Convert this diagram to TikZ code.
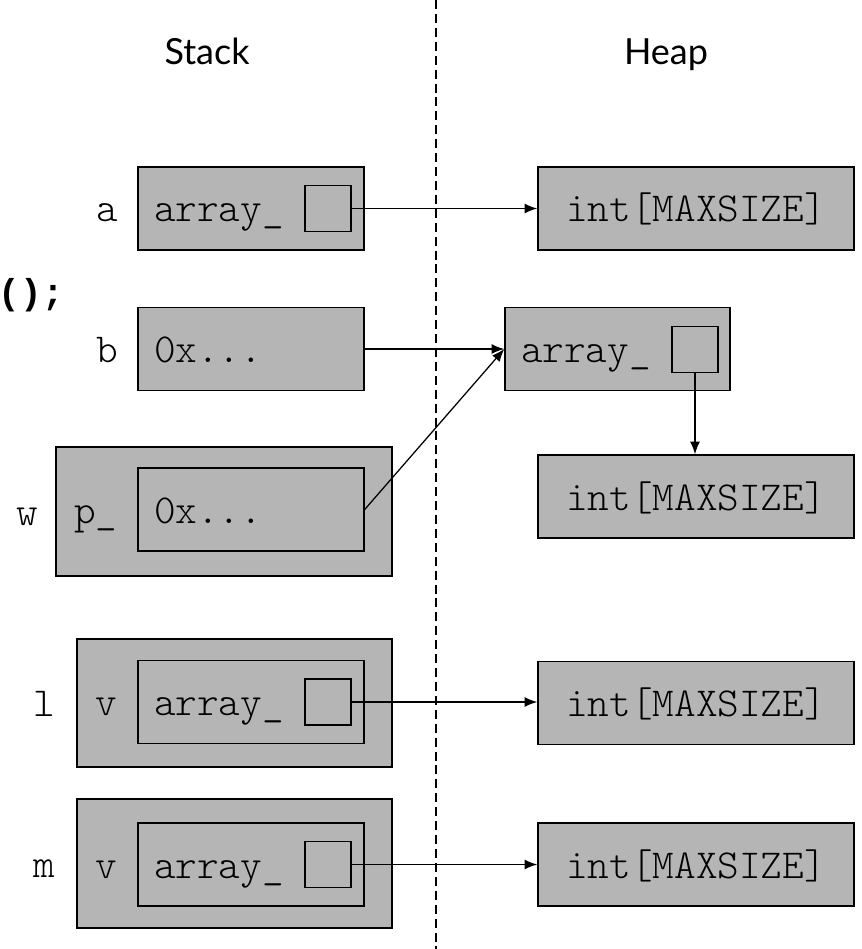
\documentclass[tikz,border=0pt]{standalone}
\usepackage{fontspec}
\setmainfont{Lato}
\newfontfamily\callfont{Liberation Mono}
\newfontfamily\codefont{Latin Modern Mono Light}
\usetikzlibrary{positioning,arrows.meta}
\definecolor{cellgray}{RGB}{181,181,181}

\begin{document}
\begin{tikzpicture}[
    cell/.style={draw,line width=1pt,fill=cellgray,minimum height=2.075cm,inner sep=0pt},
    outer/.style={cell,minimum width=7.875cm,minimum height=3.2cm},
    ptr/.style={draw,line width=1pt,fill=cellgray,minimum size=1.15cm,inner sep=0pt},
    code/.style={font=\codefont\fontsize{29.3}{34}\selectfont,text height=20.5pt,text depth=1.3pt,inner sep=0pt},
    title/.style={font=\fontsize{25.6}{30}\selectfont,anchor=base},
    link/.style={-{Latex[length=9pt,width=7pt]},line width=0.9pt},
    divider/.style={line width=1pt,dash pattern=on 6.4pt off 3.5pt}
]
\useasboundingbox (0,0) rectangle (21.525,-23.725);

% Divider and titles
\draw[divider] (10.9,0) -- (10.9,-23.725);
\node[title] (stack) at (5.175,-1.6) {Stack};
\node[title] (heap) at (16.65,-1.6) {Heap};

% Cut-off code line
\node[code,anchor=east,font=\callfont\bfseries\fontsize{25.6}{30}\selectfont] (call) at (1.6,-7.28) {();};

% Stack: a
\node[cell,minimum width=5.65cm] (a) at (6.275,-5.2125) {};
\node[ptr] (a-ptr) at (8.2,-5.2125) {};
\node[code,right=0.4125cm of a.west] {array\_};
\node[code,left=0.48cm of a] {a};

% Stack: b
\node[cell,minimum width=5.65cm] (b) at (6.275,-8.725) {};
\node[code,right=0.4125cm of b.west] {0x...};
\node[code,left=0.48cm of b] {b};

% Stack: w
\node[outer,minimum width=8.4cm,minimum height=3.225cm] (w) at (5.6,-12.7875) {};
\node[cell,minimum width=5.65cm] (w-p) at (6.275,-12.7375) {};
\node[code,right=0.4125cm of w-p.west] {0x...};
\node[code,left=0.49cm of w-p] {p\_};
\node[code,left=0.43cm of w] {w};

% Stack: l
\node[outer] (l) at (5.8625,-17.575) {};
\node[cell,minimum width=5.65cm] (l-v) at (6.275,-17.55) {};
\node[ptr] (l-ptr) at (8.2,-17.55) {};
\node[code,right=0.4125cm of l-v.west] {array\_};
\node[code,left=0.49cm of l-v] {v};
\node[code,left=0.53cm of l] {l};

% Stack: m
\node[outer,minimum height=3.225cm] (m) at (5.8625,-21.5875) {};
\node[cell,minimum width=5.65cm] (m-v) at (6.275,-21.6125) {};
\node[ptr] (m-ptr) at (8.2,-21.6125) {};
\node[code,right=0.4125cm of m-v.west] {array\_};
\node[code,left=0.49cm of m-v] {v};
\node[code,left=0.53cm of m] {m};

% Heap
\node[cell,code,minimum width=7.9cm,minimum height=2.075cm] (h1) at (17.4,-5.2125) {int[MAXSIZE]};
\node[cell,minimum width=5.625cm] (arr) at (15.4375,-8.725) {};
\node[ptr] (arr-ptr) at (17.375,-8.7375) {};
\node[code,right=0.4125cm of arr.west] {array\_};
\node[cell,code,minimum width=7.9cm,minimum height=2.075cm] (h2) at (17.4,-12.4125) {int[MAXSIZE]};
\node[cell,code,minimum width=7.9cm,minimum height=2.075cm] (h3) at (17.4,-17.575) {int[MAXSIZE]};
\node[cell,code,minimum width=7.9cm,minimum height=2.075cm] (h4) at (17.4,-21.6125) {int[MAXSIZE]};

% Pointers
\draw[link] (a-ptr.east) -- (h1.west);
\draw[link] (b.east) -- (arr.west);
\draw[link] (w-p.east) -- (arr.west);
\draw[link] (arr-ptr.south) -- (arr-ptr.south |- h2.north);
\draw[link] (l-ptr.east) -- (l-ptr.east -| h3.west);
\draw[link] (m-ptr.east) -- (h4.west);

\end{tikzpicture}
\end{document}
